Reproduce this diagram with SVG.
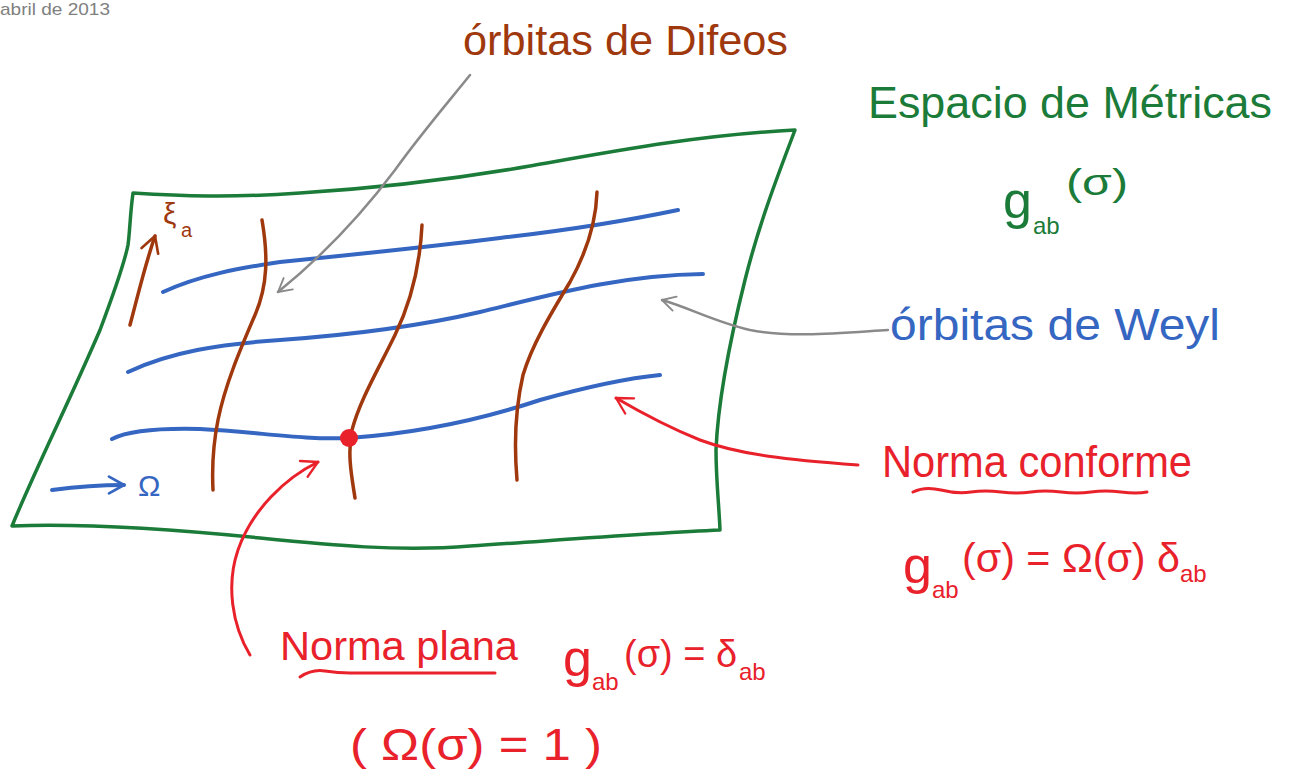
<svg xmlns="http://www.w3.org/2000/svg" width="1289" height="776" viewBox="0 0 1289 776">
<style>
.ln{fill:none;stroke-linecap:round;stroke-linejoin:round}
.green{stroke:#1b7b38;stroke-width:3.5}
.blue{stroke:#3566c2;stroke-width:4}
.brown{stroke:#a0380d;stroke-width:3.5}
.gray{stroke:#8a8a8a;stroke-width:2.5}
.red{stroke:#e8212b;stroke-width:3}
.t{font-family:"Liberation Sans","DejaVu Sans",sans-serif}
.tg{fill:#1b7b38}.tb{fill:#3566c2}.tbr{fill:#a0380d}.tr{fill:#e8212b}
</style>
<defs>
<marker id="mGray" viewBox="0 0 12 12" refX="10" refY="6" markerWidth="7" markerHeight="7" orient="auto" markerUnits="strokeWidth"><path d="M1,1 L10,6 L1,11" fill="none" stroke="#8a8a8a" stroke-width="1.3" stroke-linecap="round" stroke-linejoin="round"/></marker>
<marker id="mRed" viewBox="0 0 12 12" refX="10" refY="6" markerWidth="7" markerHeight="7" orient="auto" markerUnits="strokeWidth"><path d="M1,1 L10,6 L1,11" fill="none" stroke="#e8212b" stroke-width="1.3" stroke-linecap="round" stroke-linejoin="round"/></marker>
<marker id="mBrown" viewBox="0 0 12 12" refX="10" refY="6" markerWidth="6" markerHeight="6" orient="auto" markerUnits="strokeWidth"><path d="M1,1 L10,6 L1,11" fill="none" stroke="#a0380d" stroke-width="1.5" stroke-linecap="round" stroke-linejoin="round"/></marker>
<marker id="mBlue" viewBox="0 0 12 12" refX="10" refY="6" markerWidth="5" markerHeight="5" orient="auto" markerUnits="strokeWidth"><path d="M1,1 L10,6 L1,11" fill="none" stroke="#3566c2" stroke-width="1.6" stroke-linecap="round" stroke-linejoin="round"/></marker>
</defs>
<rect width="1289" height="776" fill="#ffffff"/>
<text class="t" x="0" y="15" font-size="17" fill="#808080" textLength="110" lengthAdjust="spacingAndGlyphs">abril de 2013</text>

<g id="sheet">
<path class="ln green" d="M133,193 C180,196 230,198 300,193 C380,188 450,180 530,166 C620,150 700,135 795,130 C780,170 760,220 745,280 C730,340 718,400 716,450 C716,480 719,505 720,530 C650,533 560,540 470,546 C400,552 330,545 260,538 C180,530 90,523 12,526 C35,470 70,400 100,330 C115,290 125,260 128,245 C130,230 130,215 133,193 Z"/>
</g>

<g id="weyl-orbits">
<path class="ln blue" d="M163,292 C200,275 240,268 280,262 C350,255 420,248 500,238 C570,230 630,220 678,210"/>
<path class="ln blue" d="M128,372 C170,352 220,344 280,340 C350,335 420,326 480,312 C550,295 620,275 703,274"/>
<path class="ln blue" d="M112,439 C130,430 160,428 200,429 C260,432 300,440 349,438 C420,433 480,420 540,400 C590,386 630,378 660,375"/>
</g>

<g id="difeo-orbits">
<path class="ln brown" d="M262,220 C268,255 268,285 255,315 C240,350 225,385 218,420 C212,450 212,470 213,490"/>
<path class="ln brown" d="M422,225 C420,265 412,300 395,335 C378,370 360,400 352,430 C347,455 352,478 355,498"/>
<path class="ln brown" d="M597,192 C596,225 585,255 570,282 C550,315 532,345 523,375 C515,410 514,445 517,480"/>
</g>

<g id="point">
<circle cx="349" cy="438" r="9" fill="#e8212b"/>
</g>

<g id="xi-label">
<text class="t tbr" x="163" y="224" font-size="30">ξ</text>
<text class="t tbr" x="181" y="237" font-size="20">a</text>
</g>
<g id="omega-label">
<text class="t tb" x="138" y="496" font-size="30">Ω</text>
</g>

<g id="label-difeo">
<text class="t tbr" x="463" y="55" font-size="42" textLength="325" lengthAdjust="spacingAndGlyphs">órbitas de Difeos</text>
</g>
<g id="label-espacio">
<text class="t tg" x="868" y="118" font-size="45" textLength="404" lengthAdjust="spacingAndGlyphs">Espacio de Métricas</text>
<text class="t tg" x="1003" y="218" font-size="52">g</text>
<text class="t tg" x="1033" y="234" font-size="24">ab</text>
<text class="t tg" x="1066" y="195" font-size="36" textLength="62" lengthAdjust="spacingAndGlyphs">(σ)</text>
</g>
<g id="label-weyl">
<text class="t tb" x="890" y="340" font-size="44" textLength="330" lengthAdjust="spacingAndGlyphs">órbitas de Weyl</text>
</g>
<g id="label-conforme">
<text class="t tr" x="882" y="477" font-size="44" textLength="310" lengthAdjust="spacingAndGlyphs">Norma conforme</text>
<path class="ln red" d="M913,492 q12,-6 28,-2 t30,2 t30,0 t30,0 t30,0 t30,0 t30,0 t26,0"/>
<text class="t tr" x="903" y="583" font-size="52">g</text>
<text class="t tr" x="932" y="598" font-size="24">ab</text>
<text class="t tr" x="962" y="572" font-size="40" textLength="218" lengthAdjust="spacingAndGlyphs">(σ) = Ω(σ) δ</text>
<text class="t tr" x="1180" y="582" font-size="24">ab</text>
</g>
<g id="label-plana">
<text class="t tr" x="280" y="660" font-size="40" textLength="238" lengthAdjust="spacingAndGlyphs">Norma plana</text>
<path class="ln red" d="M300,677 q12,-8 25,-6 t25,2 t25,0 t25,0 t25,0 t25,0 t25,0 t20,0"/>
<text class="t tr" x="563" y="676" font-size="52">g</text>
<text class="t tr" x="592" y="690" font-size="24">ab</text>
<text class="t tr" x="624" y="667" font-size="38" textLength="113" lengthAdjust="spacingAndGlyphs">(σ) = δ</text>
<text class="t tr" x="739" y="680" font-size="24">ab</text>
<text class="t tr" x="350" y="760" font-size="44" textLength="252" lengthAdjust="spacingAndGlyphs">( Ω(σ) = 1 )</text>
</g>

<g id="connectors">
<path class="ln gray" d="M470,75 C450,100 420,135 395,170 C365,210 330,250 278,292" marker-end="url(#mGray)"/>
<path class="ln gray" d="M888,330 C840,333 790,338 750,330 C715,322 690,308 662,300" marker-end="url(#mGray)"/>
<path class="ln red" d="M858,465 C790,460 740,455 700,440 C665,426 640,412 616,398" marker-end="url(#mRed)"/>
<path class="ln red" d="M250,655 C232,625 226,585 238,550 C252,510 285,478 318,462" marker-end="url(#mRed)"/>
<path class="ln brown" d="M130,325 C138,295 145,265 155,236" marker-end="url(#mBrown)"/>
<path class="ln blue" d="M52,490 C75,487 100,485 124,485" marker-end="url(#mBlue)"/>
</g>
</svg>
